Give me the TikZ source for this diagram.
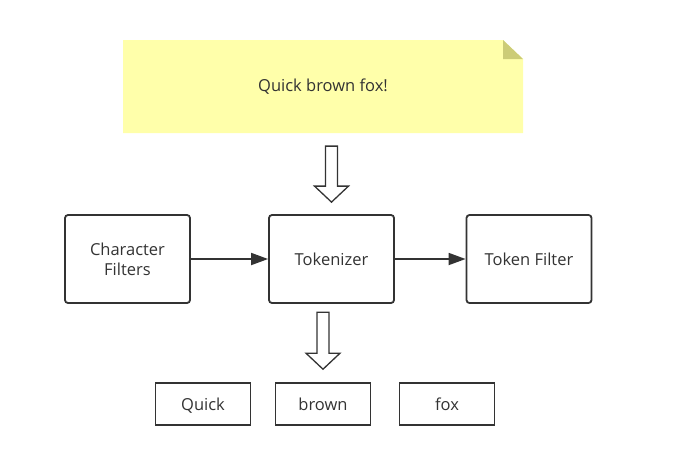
\documentclass[tikz,border=0pt]{standalone}
\usepackage{fontspec}
\setmainfont{Open Sans}
\usetikzlibrary{arrows.meta,calc}
\definecolor{notefill}{HTML}{FFFFAA}
\definecolor{notefold}{HTML}{CCCC77}
\definecolor{ink}{HTML}{333333}
\tikzset{
  txt/.style={font=\fontsize{16.5}{20}\selectfont,text=ink},
  bigbox/.style={txt,draw=ink,line width=1.8pt,rounded corners=3pt,minimum width=125pt,minimum height=88pt,align=center,inner sep=0pt},
  tokbox/.style={txt,draw=ink,line width=1.6pt,minimum width=95pt,minimum height=42pt,inner sep=0pt,text height=15pt,text depth=2pt},
  flow/.style={draw=ink,line width=1.8pt,-{Triangle[length=17pt,width=12pt]}},
  hollow/.style={draw=ink,line width=1.3pt,fill=white,line join=miter}
}
\begin{document}
\begin{tikzpicture}[x=1pt,y=-1pt]
\useasboundingbox (0,0) rectangle (698,475);
% note
\fill[notefill] (123,40) -- (503,40) -- (523,59) -- (523,133) -- (123,133) -- cycle;
\fill[notefold] (503,40) -- (523,59) -- (503,59) -- cycle;
\node[txt] (note) at (323,87) {Quick brown fox!};
% boxes
\node[bigbox] (cf) at (127.5,259) {Character\\Filters};
\node[bigbox] (tok) at (331.5,259) {Tokenizer};
\node[bigbox] (tf) at (529,259) {Token Filter};
\draw[flow] (cf.east) -- (tok.west);
\draw[flow] (tok.east) -- (tf.west);
% hollow arrow note -> tokenizer
\draw[hollow] ($(tok.north)+(-6,-68)$) -- ($(tok.north)+(6,-68)$) -- ($(tok.north)+(6,-28)$) -- ($(tok.north)+(17,-28)$) -- ($(tok.north)+(0,-12)$) -- ($(tok.north)+(-17,-28)$) -- ($(tok.north)+(-6,-28)$) -- cycle;
% tokens
\node[tokbox] (q) at (203,404) {Quick};
\node[tokbox] (b) at (323,404) {brown};
\node[tokbox] (f) at (447,404) {fox};
% hollow arrow tokenizer -> tokens
\draw[hollow] ($(b.north)+(-6,-70)$) -- ($(b.north)+(6,-70)$) -- ($(b.north)+(6,-29)$) -- ($(b.north)+(17,-29)$) -- ($(b.north)+(0,-13)$) -- ($(b.north)+(-17,-29)$) -- ($(b.north)+(-6,-29)$) -- cycle;
\end{tikzpicture}
\end{document}
